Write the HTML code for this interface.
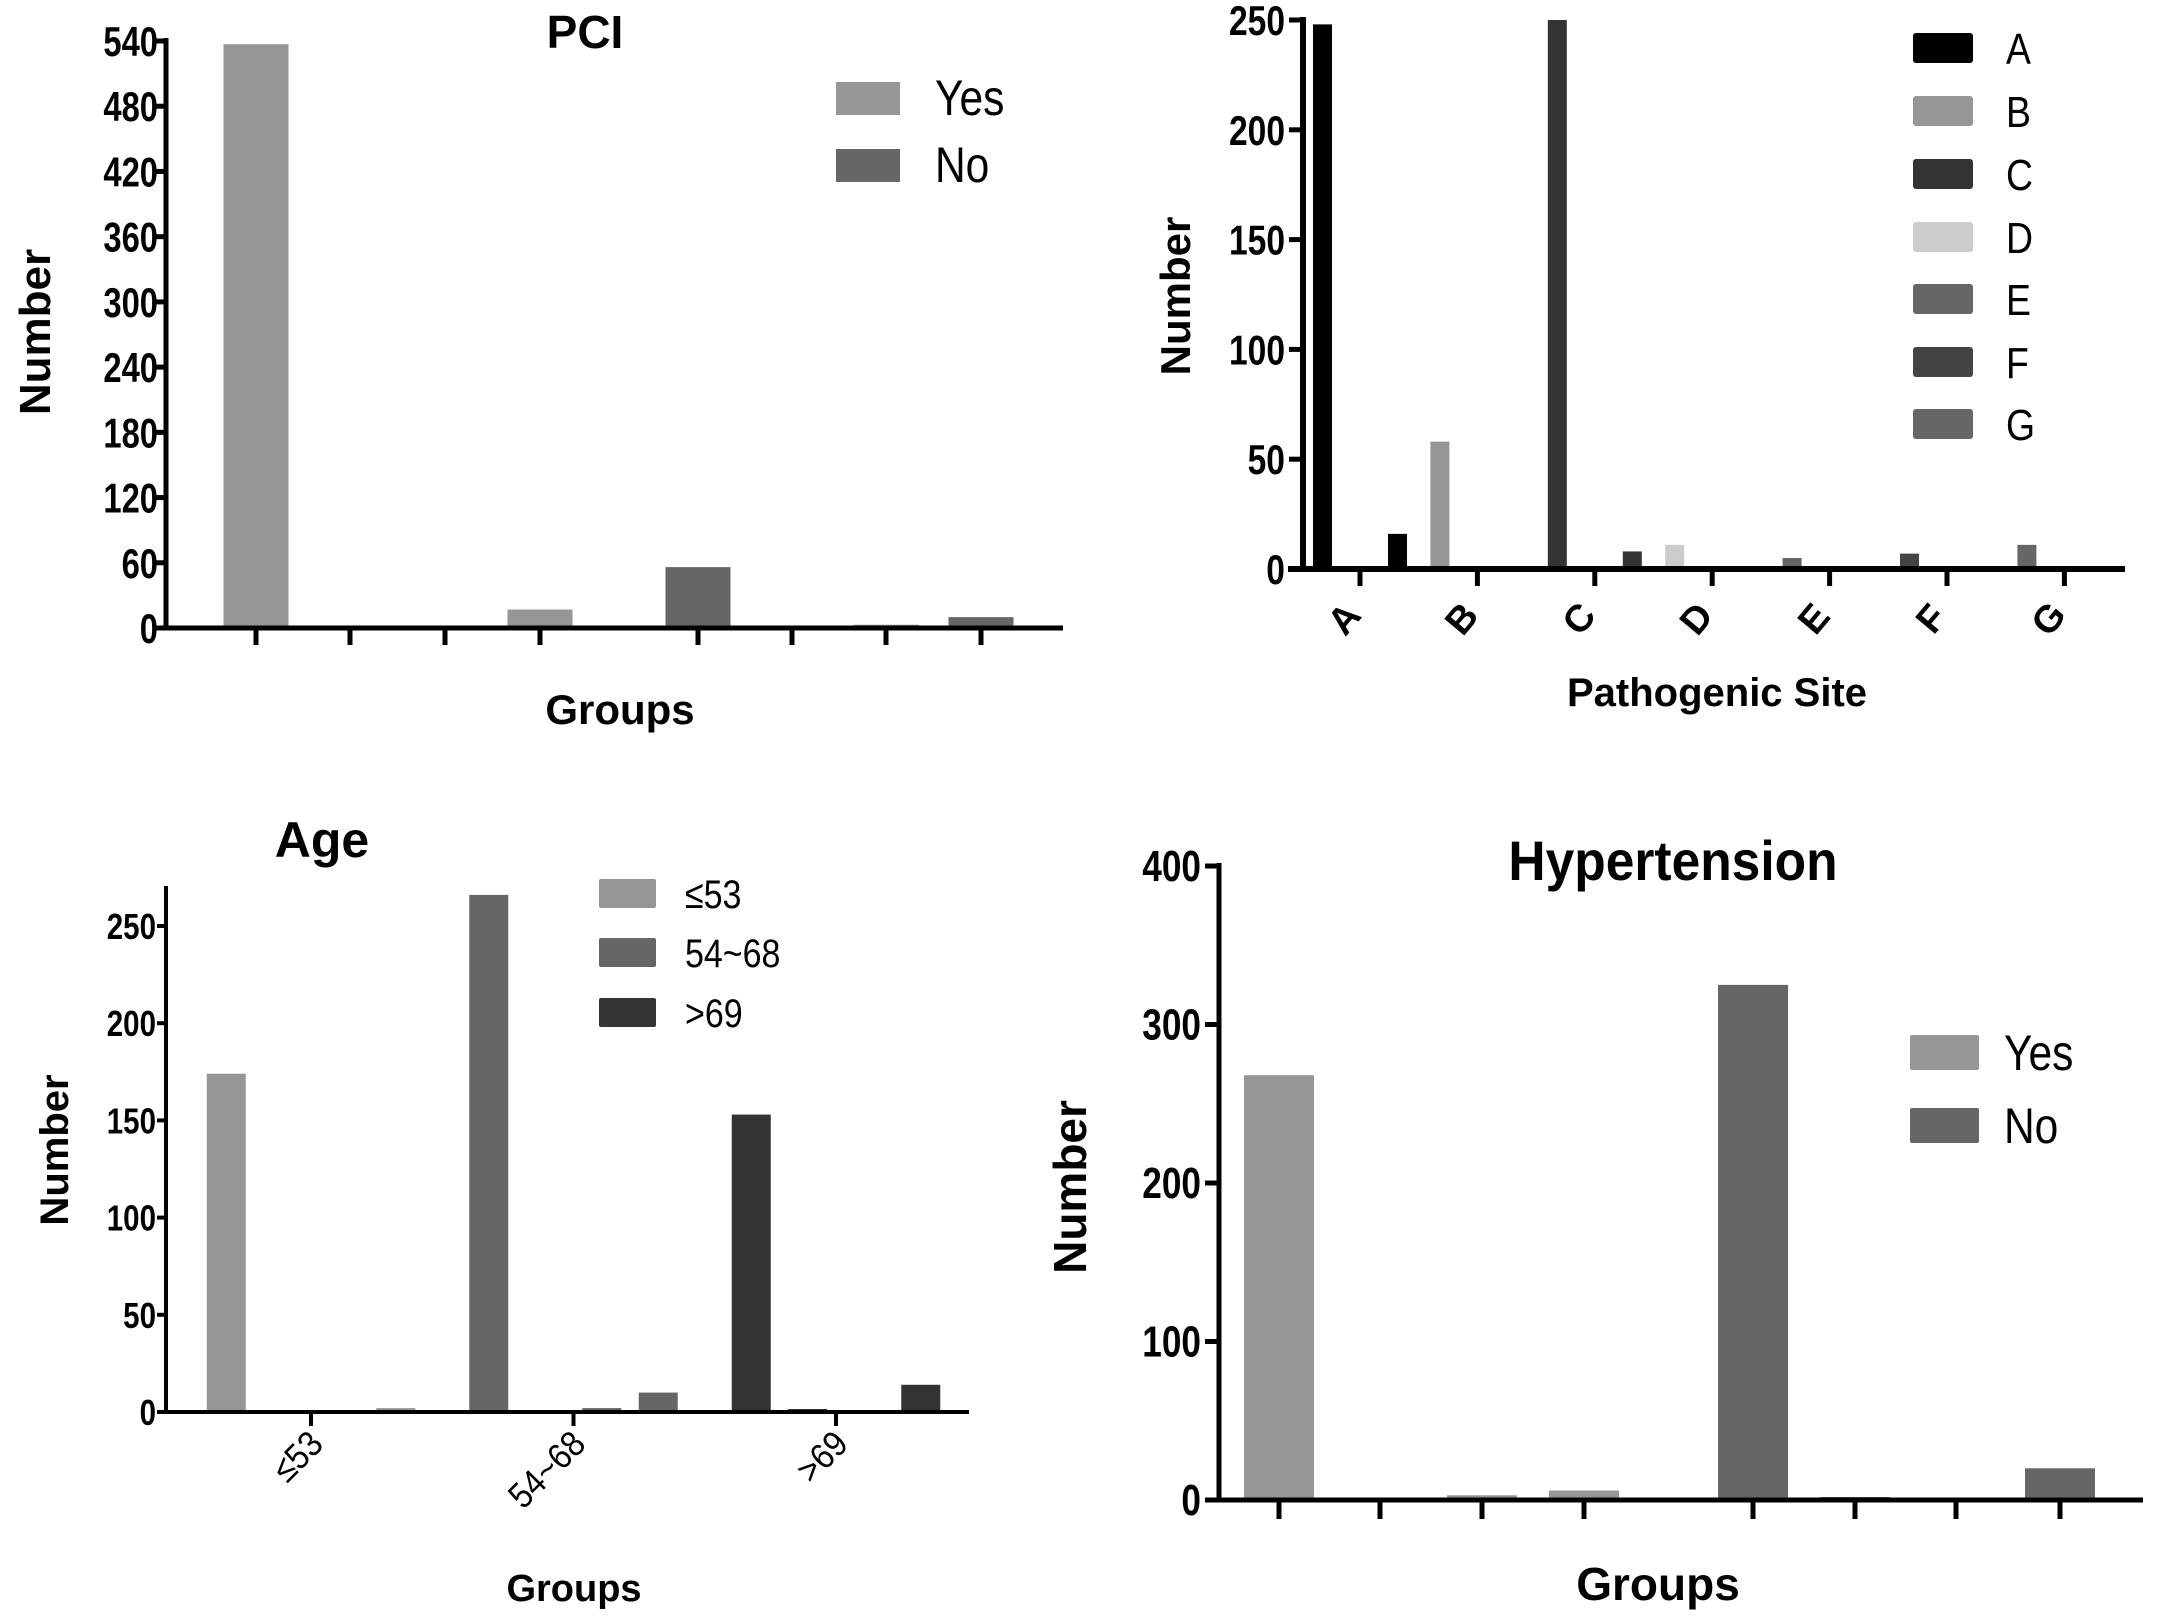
<!DOCTYPE html>
<html><head><meta charset="utf-8">
<style>
html,body{margin:0;padding:0;background:#fff;}
svg{display:block;}
.t{font-family:"Liberation Sans",sans-serif;font-weight:bold;fill:#000;}
.n{font-family:"Liberation Sans",sans-serif;fill:#000;}
.b{font-family:"Liberation Sans",sans-serif;font-weight:bold;fill:#000;}
</style></head>
<body>
<svg id="fig" width="2161" height="1616" viewBox="0 0 2161 1616" xmlns="http://www.w3.org/2000/svg"></svg>
<script>
// ---- PCI chart data ----
const pciCategories = ["g1","g2","g3","g4","g5","g6","g7","g8"];
const pciYes = [537,0,0,17,0,0,3,0];
const pciNo = [0,0,0,0,56,0,0,10];
const pciTicks = [0,60,120,180,240,300,360,420,480,540];
// ---- Pathogenic site data ----
const siteCategories = ["A","B","C","D","E","F","G"];
const siteSlot0 = [248,58,250,11,5,7,11];
const siteSlot2 = [1,0,1,0,0,0,0];
const siteSlot3 = [16,0,8,1,0,0,0];
const siteTicks = [0,50,100,150,200,250];
// ---- Age data ----
const ageCategories = ["≤53","54~68",">69"];
const ageSlot0 = [174,266,153];
const ageSlot1 = [0,0,1];
const ageSlot2 = [0,2,0];
const ageSlot3 = [2,10,14];
const ageTicks = [0,50,100,150,200,250];
// ---- Hypertension data ----
const hypCategories = ["g1","g2","g3","g4","g5","g6","g7","g8"];
const hypYes = [268,0,3,6,0,0,0,0];
const hypNo = [0,0,0,0,325,1,0,20];
const hypTicks = [0,100,200,300,400];

const NS="http://www.w3.org/2000/svg";
const svg=document.getElementById('fig');
function mk(tag,attrs,parent){const e=document.createElementNS(NS,tag);for(const k in attrs)e.setAttribute(k,attrs[k]);(parent||svg).appendChild(e);return e;}
function txt(s,attrs,parent){const e=mk('text',attrs,parent);e.textContent=s;return e;}
function ctxt(s,x,y,anchor,size,cls,parent,sx){return txt(s,{x:0,y:0,'text-anchor':anchor,'font-size':size,class:cls,transform:`translate(${x},${y}) scale(${sx||0.8},1)`},parent);}
function linY(v,v0,v1,p0,p1){return p0+(v-v0)*(p1-p0)/(v1-v0);}

// ================= PCI =================
(function(){
  const g=mk('g',{});
  
  
  const X0=166,X1=1063,Y0=628,Y1=41,maxV=540;
  const y=v=>linY(v,0,maxV,Y0,Y1);
  const tickX=[256,350,445,540,698,792,886,981];
  const bw=65;
  pciCategories.forEach((c,i)=>{
    if(pciYes[i]>0){const r=mk('rect',{x:tickX[i]-bw/2,y:y(pciYes[i]),width:bw,height:Y0-y(pciYes[i]),fill:'#969696'},g);
      
      }
    if(pciNo[i]>0){const r=mk('rect',{x:tickX[i]-bw/2,y:y(pciNo[i]),width:bw,height:Y0-y(pciNo[i]),fill:'#666'},g);
      
      }
    const t=mk('line',{x1:tickX[i],x2:tickX[i],y1:Y0,y2:645,stroke:'#000','stroke-width':5},g);
    
    
  });
  const ax=mk('path',{d:`M${X0} ${Y1-3} V${Y0} M${X0-3} ${Y0} H${X1}`,stroke:'#000','stroke-width':5,fill:'none'},g);
  
  
  pciTicks.forEach(v=>{
    mk('line',{x1:X0-12,x2:X0,y1:y(v),y2:y(v),stroke:'#000','stroke-width':5},g);
    const l=ctxt(String(v),X0-8,y(v)+15,'end',42,'t',g,0.78);
    
    
  });
  const ti=txt('PCI',{x:585,y:48,'text-anchor':'middle','font-size':46,class:'b'},g);
  
  
  const yl=txt('Number',{x:0,y:0,'text-anchor':'middle','font-size':44,class:'b',transform:'translate(50,332) rotate(-90)'},g);
  
  
  const xl=txt('Groups',{x:620,y:724,'text-anchor':'middle','font-size':42,class:'b'},g);
  
  
  [['Yes','#969696',82],['No','#666',149]].forEach(([s,c,yy])=>{
    const sw=mk('rect',{x:836,y:yy,width:64,height:33,fill:c},g);
    
    
    const lt=ctxt(s,935,yy+33,'start',50,'n',g,0.85);
    
    
  });
})();

// ================= Pathogenic Site =================
(function(){
  const g=mk('g',{});
  
  
  const X0=1303,X1=2125,Y0=569,Y1=20,maxV=250;
  const y=v=>linY(v,0,maxV,Y0,Y1);
  const colors=['#000','#969696','#333','#cccccc','#666','#444','#666'];
  const cx=i=>1360+i*117.4;
  const slot=25,bw=19;
  const slots=[siteSlot0,null,siteSlot2,siteSlot3];
  siteCategories.forEach((c,i)=>{
    slots.forEach((arr,k)=>{
      if(!arr||arr[i]<=0)return;
      const bx=cx(i)+(k-1.5)*slot-bw/2;
      const h=Math.max(Y0-y(arr[i]),3);
      const r=mk('rect',{x:bx,y:Y0-h,width:bw,height:h,fill:colors[i]},g);
      
      
    });
    mk('line',{x1:cx(i),x2:cx(i),y1:Y0,y2:586,stroke:'#000','stroke-width':5},g);
    const l=txt(c,{x:0,y:0,'text-anchor':'middle','font-size':38,class:'b',transform:`translate(${cx(i)-6},${627}) rotate(-50)`},g);
    
    
  });
  const ax=mk('path',{d:`M${X0} ${Y1-3} V${Y0} M${X0-15} ${Y0} H${X1}`,stroke:'#000','stroke-width':6,fill:'none'},g);
  
  
  siteTicks.forEach(v=>{
    mk('line',{x1:X0-14,x2:X0,y1:y(v),y2:y(v),stroke:'#000','stroke-width':5},g);
    const l=ctxt(String(v),X0-18,y(v)+15,'end',42,'t',g,0.8);
    
    
  });
  const yl=txt('Number',{x:0,y:0,'text-anchor':'middle','font-size':42,class:'b',transform:'translate(1190,296) rotate(-90)'},g);
  
  
  const xl=txt('Pathogenic Site',{x:1717,y:706,'text-anchor':'middle','font-size':40,class:'b'},g);
  
  
  const rows=[48,111,174,237,299,362,424];
  siteCategories.forEach((c,i)=>{
    const sw=mk('rect',{x:1913,y:rows[i]-15,width:60,height:30,fill:colors[i],rx:3},g);
    
    
    const lt=ctxt(c,2006,rows[i]+16,'start',44,'n',g,0.85);
    
    
  });
})();

// ================= Age =================
(function(){
  const g=mk('g',{});
  
  
  const X0=166,X1=969,Y0=1412,maxV=250,Y250=926;
  const y=v=>linY(v,0,maxV,Y0,Y250);
  const colors=['#969696','#666','#333'];
  const cx=i=>311+i*262.5;
  const slot=56.5,bw=39;
  const slots=[ageSlot0,ageSlot1,ageSlot2,ageSlot3];
  ageCategories.forEach((c,i)=>{
    slots.forEach((arr,k)=>{
      if(arr[i]<=0)return;
      const bx=cx(i)+(k-1.5)*slot-bw/2;
      const h=Math.max(Y0-y(arr[i]),3);
      const r=mk('rect',{x:bx,y:Y0-h,width:bw,height:h,fill:colors[i]},g);
      
      
    });
    mk('line',{x1:cx(i),x2:cx(i),y1:Y0,y2:1426,stroke:'#000','stroke-width':4},g);
    const l=txt(c,{x:0,y:0,'text-anchor':'end','font-size':36,class:'n',transform:`translate(${cx(i)+14},${1446}) rotate(-45) scale(0.9,1)`},g);
    
    
  });
  const ax=mk('path',{d:`M${X0} 886 V${Y0} M${X0-2} ${Y0} H${X1}`,stroke:'#000','stroke-width':4,fill:'none'},g);
  
  
  ageTicks.forEach(v=>{
    mk('line',{x1:X0-9,x2:X0,y1:y(v),y2:y(v),stroke:'#000','stroke-width':4},g);
    const l=ctxt(String(v),X0-10,y(v)+13,'end',36,'t',g,0.82);
    
    
  });
  const ti=txt('Age',{x:322,y:857,'text-anchor':'middle','font-size':50,class:'b'},g);
  
  
  const yl=txt('Number',{x:0,y:0,'text-anchor':'middle','font-size':40,class:'b',transform:'translate(68,1150) rotate(-90)'},g);
  
  
  const xl=txt('Groups',{x:574,y:1601,'text-anchor':'middle','font-size':38,class:'b'},g);
  
  
  const rows=[879,938,998];
  ageCategories.forEach((c,i)=>{
    const sw=mk('rect',{x:599,y:rows[i],width:57,height:29,fill:colors[i],rx:2},g);
    
    
    const lt=ctxt(c,685,rows[i]+29,'start',40,'n',g,0.85);
    
    
  });
})();

// ================= Hypertension =================
(function(){
  const g=mk('g',{});
  
  
  const X0=1219,X1=2143,Y0=1500,Y1=866,maxV=400;
  const y=v=>linY(v,0,maxV,Y0,Y1);
  const tickX=[1279,1380,1482,1584,1753,1855,1956,2060];
  const bw=70;
  hypCategories.forEach((c,i)=>{
    if(hypYes[i]>0){const h=Math.max(Y0-y(hypYes[i]),3);const r=mk('rect',{x:tickX[i]-bw/2,y:Y0-h,width:bw,height:h,fill:'#969696'},g);
      
      }
    if(hypNo[i]>0){const h=Math.max(Y0-y(hypNo[i]),3);const r=mk('rect',{x:tickX[i]-bw/2,y:Y0-h,width:bw,height:h,fill:'#666'},g);
      
      }
    mk('line',{x1:tickX[i],x2:tickX[i],y1:Y0,y2:1519,stroke:'#000','stroke-width':5},g);
  });
  const ax=mk('path',{d:`M${X0} ${Y1-3} V${Y0} M${X0-3} ${Y0} H${X1}`,stroke:'#000','stroke-width':5,fill:'none'},g);
  
  
  hypTicks.forEach(v=>{
    mk('line',{x1:X0-14,x2:X0,y1:y(v),y2:y(v),stroke:'#000','stroke-width':5},g);
    const l=ctxt(String(v),X0-18,y(v)+15,'end',44,'t',g,0.8);
    
    
  });
  const ti=txt('Hypertension',{x:1673,y:880,'text-anchor':'middle','font-size':56,class:'b',transform:'translate(1673,0) scale(0.92,1) translate(-1673,0)'},g);
  
  
  const yl=txt('Number',{x:0,y:0,'text-anchor':'middle','font-size':46,class:'b',transform:'translate(1086,1187) rotate(-90)'},g);
  
  
  const xl=txt('Groups',{x:1658,y:1600,'text-anchor':'middle','font-size':46,class:'b'},g);
  
  
  [['Yes','#969696',1035],['No','#666',1108]].forEach(([s,c,yy])=>{
    const sw=mk('rect',{x:1910,y:yy,width:69,height:35,fill:c,rx:2},g);
    
    
    const lt=ctxt(s,2004,yy+35,'start',50,'n',g,0.85);
    
    
  });
})();
</script>
</body></html>
